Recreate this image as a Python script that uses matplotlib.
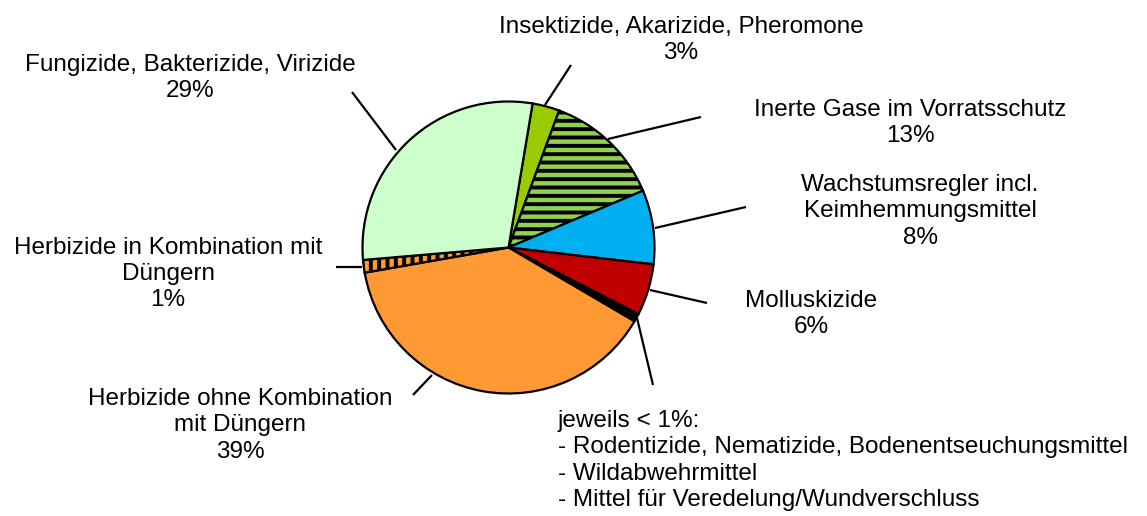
import matplotlib
matplotlib.use('Agg')
import matplotlib.pyplot as plt

plt.rcParams['font.family'] = ['Liberation Sans', 'DejaVu Sans']
plt.rcParams['hatch.linewidth'] = 2.8

# Anteile (Prozent), im Uhrzeigersinn
categories = ['Insektizide, Akarizide, Pheromone',
              'Inerte Gase im Vorratsschutz',
              'Wachstumsregler incl.\nKeimhemmungsmittel',
              'Molluskizide',
              'jeweils < 1%:\n- Rodentizide, Nematizide, Bodenentseuchungsmittel\n- Wildabwehrmittel\n- Mittel für Veredelung/Wundverschluss',
              'Herbizide ohne Kombination\nmit Düngern',
              'Herbizide in Kombination mit\nDüngern',
              'Fungizide, Bakterizide, Virizide']
shares = [3.0, 13.0, 8.2, 5.7, 0.9, 38.8, 1.4, 29.0]
pct_labels = ['3%', '13%', '8%', '6%', '', '39%', '1%', '29%']
colors = ['#99CC00', '#92D050', '#00B0F0', '#C00000', '#000000',
          '#FF9933', '#FF9933', '#CCFFCC']
hatches = [None, '--', None, None, None, None, '||', None]

# Layout in Pixeln (y nach unten)
W, H = 1147, 516
cx, cy, r = 508.5, 247.5, 146
# Textposition (x, Oberkante), Ausrichtung
text_pos = [(681, 16, 'center'), (910, 99, 'center'), (920, 174, 'center'),
            (811, 290, 'center'), (558, 410, 'left'), (240, 388, 'center'),
            (168, 237, 'center'), (190, 54, 'center')]
# Führungslinien (außen x, y, innen x, y)
leaders = [(571, 65, 545, 105), (701, 117, 608, 139), (746, 207, 655, 228),
           (707, 303, 650, 290), (653, 385, 637, 318), (413, 395, 432, 375),
           (336, 267, 362, 267), (352, 92, 396, 150)]

fig = plt.figure(figsize=(W / 100, H / 100), dpi=100)
ax = fig.add_axes([0, 0, 1, 1])

wedges, _ = ax.pie(shares, colors=colors, center=(cx, cy), radius=r,
                   startangle=279.5, counterclock=True,
                   wedgeprops=dict(edgecolor='black', linewidth=1.6))
for w, h in zip(wedges, hatches):
    if h:
        w.set_hatch(h)

ax.set_xlim(0, W)
ax.set_ylim(H, 0)
ax.set_aspect('equal')
ax.axis('off')

for (x0, y0, x1, y1) in leaders:
    ax.plot([x0, x1], [y0, y1], color='black', lw=1.6, solid_capstyle='butt')

for cat, pct, (x, y, ha) in zip(categories, pct_labels, text_pos):
    txt = cat + ('\n' + pct if pct else '')
    ax.text(x, y, txt, ha=ha, va='top', fontsize=17.5, color='black',
            multialignment=ha, linespacing=1.25)

fig.savefig('out.png', dpi=100)
